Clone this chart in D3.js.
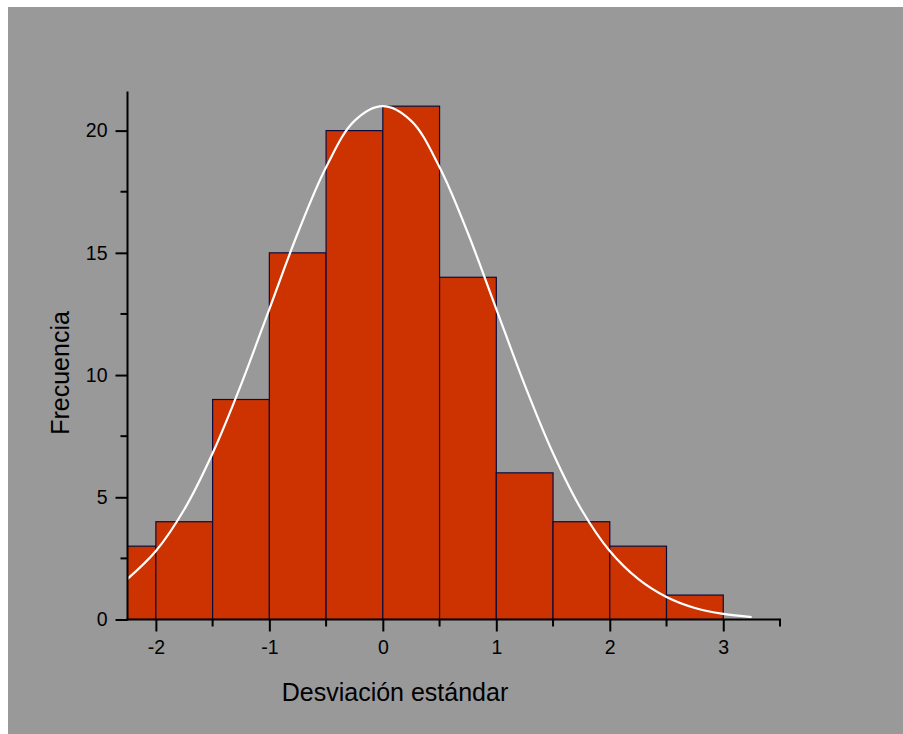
<!DOCTYPE html>
<html>
<head>
<meta charset="utf-8">
<script src="https://cdn.jsdelivr.net/npm/d3@7"></script>
<style>
  html, body { margin: 0; padding: 0; background: #ffffff; }
  svg { display: block; }
  text { font-family: "Liberation Sans", Arial, sans-serif; fill: #000; }
</style>
</head>
<body>
<svg id="chart" width="903" height="734"></svg>
<script>
// Histogram bins (lower edge, upper edge) and counts
const binStart = [-2.5, -2.0, -1.5, -1.0, -0.5, 0.0, 0.5, 1.0, 1.5, 2.0, 2.5];
const binEnd   = [-2.0, -1.5, -1.0, -0.5, 0.0, 0.5, 1.0, 1.5, 2.0, 2.5, 3.0];
const counts   = [3, 4, 9, 15, 20, 21, 14, 6, 4, 3, 1];

// Fitted curve, points
const curveX = [-2.25, -2.0, -1.75, -1.5, -1.25, -1.0, -0.75, -0.5, -0.25, 0.0, 0.25, 0.5, 0.75, 1.0, 1.25, 1.5, 1.75, 2.0, 2.25, 2.5, 2.75, 3.0, 3.25];
const curveY = [1.66, 2.8, 4.5, 6.8, 9.6, 12.7, 15.8, 18.5, 20.4, 21.0, 20.4, 18.5, 15.8, 12.7, 9.6, 6.8, 4.5, 2.8, 1.66, 0.92, 0.47, 0.23, 0.1];

// Axis ticks
const xMajorTicks = [-2, -1, 0, 1, 2, 3];
const xMinorTicks = [-1.5, -0.5, 0.5, 1.5, 2.5, 3.5];
const yMajorTicks = [0, 5, 10, 15, 20];
const yMinorTicks = [2.5, 7.5, 12.5, 17.5];

const xDomain = [-2.25, 3.5];
const yDomain = [0, 21.6];
const xTitle = "Desviación estándar";
const yTitle = "Frecuencia";

const svg = d3.select("#chart");

// background panel
svg.append("rect").attr("x", 8).attr("y", 7).attr("width", 895).attr("height", 727).attr("fill", "#999999");

const x = d3.scaleLinear().domain(xDomain).range([127.5, 780]);
const y = d3.scaleLinear().domain(yDomain).range([619.5, 91.5]);

svg.append("defs").append("clipPath").attr("id", "plotclip")
  .append("rect")
  .attr("x", x(xDomain[0])).attr("y", y(yDomain[1]) - 5)
  .attr("width", x(xDomain[1]) - x(xDomain[0])).attr("height", y(0) - y(yDomain[1]) + 5);

const bars = binStart.map((s, i) => ({ s, e: binEnd[i], c: counts[i] }));

svg.append("g").attr("clip-path", "url(#plotclip)")
  .selectAll("rect").data(bars).join("rect")
  .attr("x", d => x(d.s))
  .attr("y", d => y(d.c))
  .attr("width", d => x(d.e) - x(d.s))
  .attr("height", d => y(0) - y(d.c))
  .attr("fill", "#cc3300")
  .attr("stroke", "#0c0c3c")
  .attr("stroke-width", 1.2);

const line = d3.line().x(d => x(d[0])).y(d => y(d[1])).curve(d3.curveCatmullRom);
svg.append("path")
  .datum(curveX.map((v, i) => [v, curveY[i]]))
  .attr("d", line)
  .attr("fill", "none")
  .attr("stroke", "#ffffff")
  .attr("stroke-width", 2.2);

// X axis
const xAxisG = svg.append("g").attr("transform", `translate(0,${y(0)})`);
xAxisG.call(d3.axisBottom(x).tickValues(xMajorTicks).tickSize(12).tickPadding(9)
  .tickFormat(d => d3.format("d")(d).replace("\u2212", "-")));
xAxisG.select(".domain").remove();
xAxisG.append("line").attr("x1", x(xDomain[0]) - 1).attr("x2", x(xDomain[1]) + 1)
  .attr("stroke", "#000").attr("stroke-width", 2);
xAxisG.selectAll(".xminor").data(xMinorTicks).join("line").attr("class", "xminor")
  .attr("x1", d => x(d)).attr("x2", d => x(d)).attr("y1", 0).attr("y2", 7)
  .attr("stroke", "#000").attr("stroke-width", 2);
xAxisG.selectAll(".tick line").attr("stroke", "#000").attr("stroke-width", 2);
xAxisG.selectAll(".tick text").attr("font-size", "19.5px").attr("font-family", "Liberation Sans, Arial, sans-serif").attr("fill", "#000");

// Y axis
const yAxisG = svg.append("g").attr("transform", `translate(${x(xDomain[0])},0)`);
yAxisG.call(d3.axisLeft(y).tickValues(yMajorTicks).tickSize(12).tickPadding(8).tickFormat(d3.format("d")));
yAxisG.select(".domain").remove();
yAxisG.append("line").attr("y1", y(0) + 1).attr("y2", y(yDomain[1]))
  .attr("stroke", "#000").attr("stroke-width", 2);
yAxisG.selectAll(".yminor").data(yMinorTicks).join("line").attr("class", "yminor")
  .attr("y1", d => y(d)).attr("y2", d => y(d)).attr("x1", 0).attr("x2", -7)
  .attr("stroke", "#000").attr("stroke-width", 2);
yAxisG.selectAll(".tick line").attr("stroke", "#000").attr("stroke-width", 2);
yAxisG.selectAll(".tick text").attr("font-size", "19.5px").attr("font-family", "Liberation Sans, Arial, sans-serif").attr("fill", "#000");

// Titles
svg.append("text").attr("x", 395).attr("y", 700.5).attr("text-anchor", "middle")
  .attr("font-size", "25px").text(xTitle);
svg.append("text").attr("transform", "translate(69,373) rotate(-90)").attr("text-anchor", "middle")
  .attr("font-size", "25px").text(yTitle);
</script>
</body>
</html>
